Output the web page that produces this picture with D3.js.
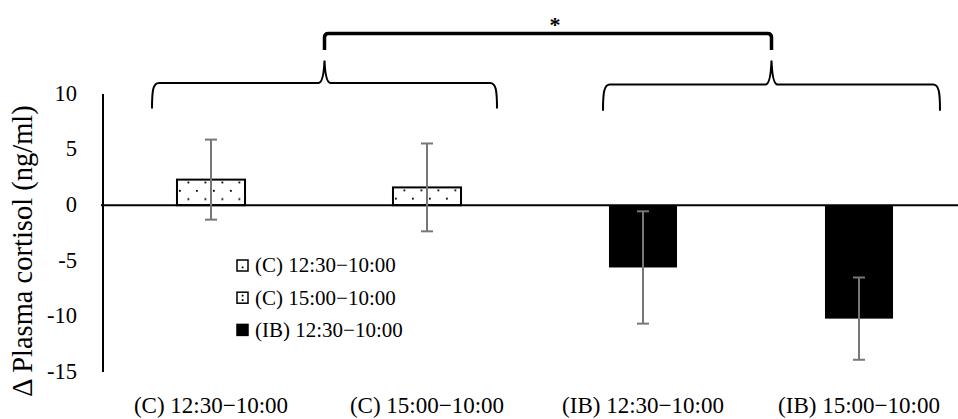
<!DOCTYPE html>
<html>
<head>
<meta charset="utf-8">
<script src="https://cdn.jsdelivr.net/npm/d3@7"></script>
<style>
  body { margin: 0; background: #fff; }
  svg { display: block; }
  text { font-family: "Liberation Serif", "Times New Roman", serif; fill: #000; }
</style>
</head>
<body>
<svg id="chart"></svg>
<script>
// data
const categories = ["(C) 12:30\u221210:00", "(C) 15:00\u221210:00", "(IB) 12:30\u221210:00", "(IB) 15:00\u221210:00"];
const means = [2.3, 1.6, -5.6, -10.2];
const errors = [3.6, 3.95, 5.05, 3.7];
const yTicks = [10, 5, 0, -5, -10, -15];
const legendLabels = ["(C) 12:30\u221210:00", "(C) 15:00\u221210:00", "(IB) 12:30\u221210:00"];
const yTitle = "\u0394 Plasma cortisol (ng/ml)";
const signif = "*";

const width = 958, height = 419;
const svg = d3.select("#chart").attr("width", width).attr("height", height);

const x = d3.scaleBand()
    .domain(categories)
    .range([103, 967])
    .paddingInner(0.685)
    .paddingOuter(0.3425);

const y = d3.scaleLinear()
    .domain([-15, 10])
    .range([372, 94]);

const cx = i => x(categories[i]) + x.bandwidth() / 2;
const patterned = i => i < 2;

// dot patterns for the control bars
const defs = svg.append("defs");
categories.forEach((c, i) => {
    if (!patterned(i)) return;
    const top = y(Math.max(0, means[i]));
    const p = defs.append("pattern")
        .attr("id", "dots" + i)
        .attr("patternUnits", "userSpaceOnUse")
        .attr("x", x(c) + 10)
        .attr("y", top + 1.5)
        .attr("width", 17)
        .attr("height", 16.6);
    p.append("rect").attr("width", 17).attr("height", 16.6).attr("fill", "#fff");
    p.append("rect").attr("x", 0.5).attr("y", 0.5).attr("width", 1.8).attr("height", 1.8).attr("fill", "#000");
    p.append("rect").attr("x", 9).attr("y", 8.8).attr("width", 1.8).attr("height", 1.8).attr("fill", "#000");
});

// y axis labels (no ticks)
svg.append("g")
    .selectAll("text")
    .data(yTicks)
    .join("text")
    .attr("x", 77)
    .attr("y", d => y(d))
    .attr("dy", "0.3em")
    .attr("text-anchor", "end")
    .attr("font-size", 22.5)
    .text(d => d);

svg.append("line")
    .attr("x1", 103).attr("x2", 103)
    .attr("y1", y(10)).attr("y2", y(-15))
    .attr("stroke", "#000").attr("stroke-width", 2);

// y title
svg.append("text")
    .attr("transform", `translate(32,${(y(10) + y(-15)) / 2 + 18}) rotate(-90)`)
    .attr("text-anchor", "middle")
    .attr("font-size", 28.5)
    .text(yTitle);

// bars
svg.append("g")
    .selectAll("rect")
    .data(means)
    .join("rect")
    .attr("x", (d, i) => x(categories[i]))
    .attr("width", x.bandwidth())
    .attr("y", d => y(Math.max(0, d)))
    .attr("height", d => Math.abs(y(d) - y(0)))
    .attr("fill", (d, i) => patterned(i) ? `url(#dots${i})` : "#000")
    .attr("stroke", "#000")
    .attr("stroke-width", (d, i) => patterned(i) ? 2 : 0);

// zero line
svg.append("line")
    .attr("x1", 101).attr("x2", width)
    .attr("y1", y(0)).attr("y2", y(0))
    .attr("stroke", "#000").attr("stroke-width", 2);

// error bars
const eb = svg.append("g").attr("stroke", "#777").attr("stroke-width", 2);
means.forEach((m, i) => {
    const c = cx(i);
    eb.append("line").attr("x1", c).attr("x2", c).attr("y1", y(m + errors[i])).attr("y2", y(m - errors[i]));
    eb.append("line").attr("x1", c - 6).attr("x2", c + 6).attr("y1", y(m + errors[i])).attr("y2", y(m + errors[i]));
    eb.append("line").attr("x1", c - 6).attr("x2", c + 6).attr("y1", y(m - errors[i])).attr("y2", y(m - errors[i]));
});

// category labels
svg.append("g")
    .selectAll("text")
    .data(categories)
    .join("text")
    .attr("x", (d, i) => cx(i))
    .attr("y", 413)
    .attr("text-anchor", "middle")
    .attr("font-size", 23)
    .text(d => d);

// legend
const lg = svg.append("g");
legendLabels.forEach((l, i) => {
    const ly = 265.5 + i * 32.2;
    lg.append("rect")
        .attr("x", 237).attr("y", ly - 5.5)
        .attr("width", 11).attr("height", 11)
        .attr("fill", patterned(i) ? "#fff" : "#000")
        .attr("stroke", "#000").attr("stroke-width", 1.5);
    if (i === 0) {
        lg.append("rect").attr("x", 241.7).attr("y", ly + 1).attr("width", 1.8).attr("height", 1.8).attr("fill", "#000");
    } else if (i === 1) {
        lg.append("rect").attr("x", 241.7).attr("y", ly - 3).attr("width", 1.8).attr("height", 1.8).attr("fill", "#000");
        lg.append("rect").attr("x", 241.7).attr("y", ly + 1.5).attr("width", 1.8).attr("height", 1.8).attr("fill", "#000");
    }
    lg.append("text")
        .attr("x", 255).attr("y", ly)
        .attr("dy", "0.33em")
        .attr("font-size", 21)
        .text(l);
});

// curly braces over the groups
function brace(x0, x1, hy, ey, py) {
    const m = (x0 + x1) / 2;
    return `M${x0},${ey} C${x0},${hy + 8} ${x0 + 1},${hy} ${x0 + 7},${hy}` +
        ` L${m - 6},${hy} Q${m - 1},${hy} ${m},${py}` +
        ` Q${m + 1},${hy} ${m + 6},${hy} L${x1 - 7},${hy}` +
        ` C${x1 - 1},${hy} ${x1},${hy + 8} ${x1},${ey}`;
}
const b1 = [cx(0) - 59, cx(1) + 70];
const b2 = [cx(2) - 40, cx(3) + 81];
const ann = svg.append("g").attr("fill", "none").attr("stroke", "#000");
ann.append("path").attr("d", brace(b1[0], b1[1], y(11), y(8.7), y(13))).attr("stroke-width", 2);
ann.append("path").attr("d", brace(b2[0], b2[1], y(10.85), y(8.5), y(13))).attr("stroke-width", 2);

const m1 = (b1[0] + b1[1]) / 2, m2 = (b2[0] + b2[1]) / 2;
const ty = y(15.45), tb = y(13.95);
ann.append("path")
    .attr("d", `M${m1},${tb} L${m1},${ty + 4} Q${m1},${ty} ${m1 + 4},${ty} L${m2 - 4},${ty} Q${m2},${ty} ${m2},${ty + 4} L${m2},${tb}`)
    .attr("stroke-width", 3.5);

svg.append("text")
    .attr("x", (m1 + m2) / 2 + 7)
    .attr("y", 32)
    .attr("text-anchor", "middle")
    .attr("font-family", "DejaVu Sans")
    .attr("font-weight", "bold")
    .attr("font-size", 22)
    .text(signif);
</script>
</body>
</html>
